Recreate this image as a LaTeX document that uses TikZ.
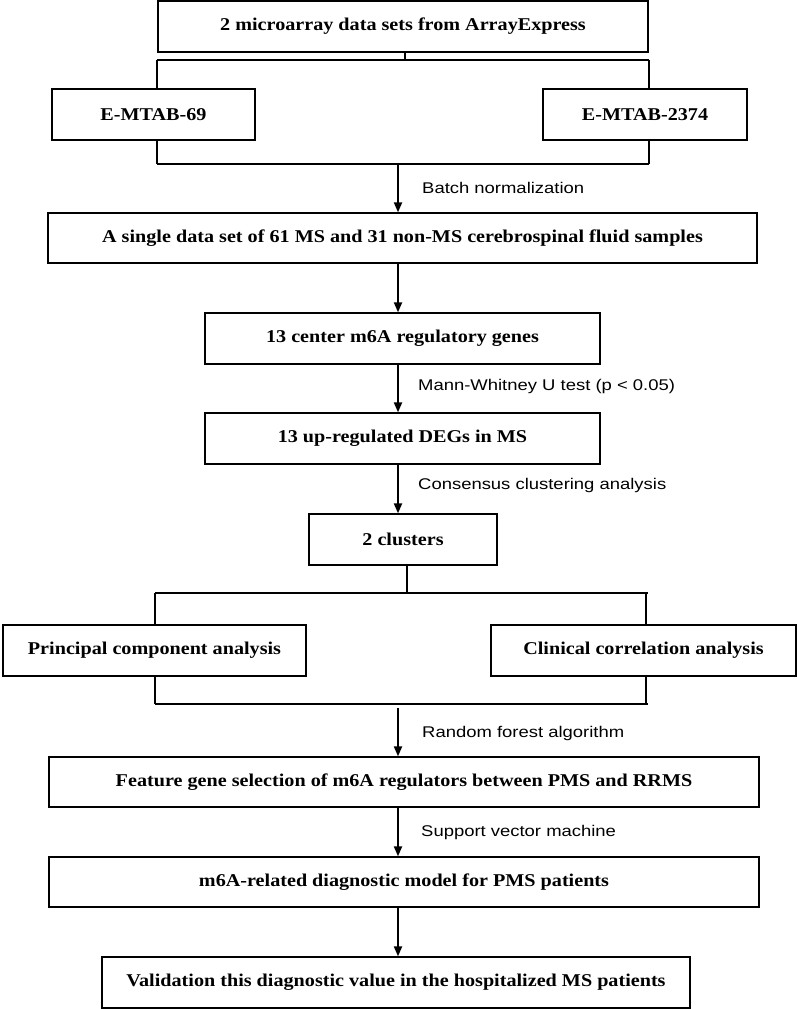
\documentclass[tikz,border=0pt]{standalone}
\usepackage{fontspec}
\setmainfont{Liberation Serif}[FakeStretch=1.12]
\newfontfamily\labelfont{Liberation Sans}[FakeStretch=1.19]
\usetikzlibrary{arrows.meta}
\tikzset{
  boxnode/.style={draw, line width=1.3pt, inner sep=0pt, font=\fontsize{18}{20}\selectfont\bfseries},
  bar/.style={line width=2.6pt},
  arr/.style={line width=2pt, -{Triangle[length=10pt,width=8pt]}},
  lbl/.style={anchor=west, inner sep=0pt, font=\labelfont\fontsize{15.5}{18}\selectfont},
}
\newcommand{\mkbox}[6]{\node[boxnode, minimum width=#4-#2, minimum height=#5-#3] (#1) at ({(#2+#4)/2},{(#3+#5)/2}) {#6};}
\begin{document}
\begin{tikzpicture}[x=1pt, y=-1pt]
\useasboundingbox (0,0) rectangle (797,1009);
% boxes
\mkbox{top}{158}{1}{648}{52}{2 microarray data sets from ArrayExpress}
\mkbox{eA}{52}{89}{255}{140}{E-MTAB-69}
\mkbox{eB}{543}{89}{747}{140}{E-MTAB-2374}
\mkbox{single}{48}{213}{757}{263}{A single data set of 61 MS and 31 non-MS cerebrospinal fluid samples}
\mkbox{center}{205}{313}{600}{364}{13 center m6A regulatory genes}
\mkbox{up}{205}{413}{600}{464}{13 up-regulated DEGs in MS}
\mkbox{clus}{309}{514}{497}{565}{2 clusters}
\mkbox{pca}{3}{625}{306}{676}{Principal component analysis}
\mkbox{clin}{491}{625}{796}{676}{Clinical correlation analysis}
\mkbox{feat}{49}{757}{759}{807}{Feature gene selection of m6A regulators between PMS and RRMS}
\mkbox{model}{49}{857}{759}{907}{m6A-related diagnostic model for PMS patients}
\mkbox{valid}{102}{957}{690}{1008}{Validation this diagnostic value in the hospitalized MS patients}
% coordinates
\coordinate (ax) at (398,0);
\coordinate (t1) at (405,60);
\coordinate (b1l) at (157,60);
\coordinate (b1r) at (649,60);
\coordinate (b2l) at (157,164);
\coordinate (b2r) at (649,164);
\coordinate (b2m) at (398,164);
\coordinate (c1) at (407,593);
\coordinate (b3l) at (155,593);
\coordinate (b3r) at (648,593);
\coordinate (b4l) at (155,704);
\coordinate (b4r) at (648,704);
\coordinate (b4m) at (398,708);
% tree 1
\draw[bar] (top.south -| t1) -- (t1);
\draw[bar] (b1l) -- (b1r);
\draw[bar] (b1l) -- (b1l |- eA.north);
\draw[bar] (b1r) -- (b1r |- eB.north);
\draw[bar] (eA.south -| b1l) -- (b2l);
\draw[bar] (eB.south -| b1r) -- (b2r);
\draw[bar] (b2l) -- (b2r);
\draw[arr] (b2m) -- (b2m |- single.north);
\node[lbl] (l1) at (422,188) {Batch normalization};
% chain
\draw[arr] (single.south -| ax) -- (center.north -| ax);
\draw[arr] (center.south -| ax) -- (up.north -| ax);
\node[lbl] (l2) at (418,386) {Mann-Whitney U test (p < 0.05)};
\draw[arr] (up.south -| ax) -- (clus.north -| ax);
\node[lbl] (l3) at (418,485) {Consensus clustering analysis};
% tree 2
\draw[bar] (clus.south -| c1) -- (c1);
\draw[bar] (b3l) -- (b3r);
\draw[bar] (b3l) -- (b3l |- pca.north);
\draw[bar] ([xshift=-2pt]b3r) -- ([xshift=-2pt]b3r |- clin.north);
\draw[bar] (pca.south -| b4l) -- (b4l);
\draw[bar] ([xshift=-2pt]b4r |- clin.south) -- ([xshift=-2pt]b4r);
\draw[bar] (b4l) -- (b4r);
\draw[arr] (b4m) -- (b4m |- feat.north);
\node[lbl] (l4) at (422,733) {Random forest algorithm};
\draw[arr] (feat.south -| ax) -- (model.north -| ax);
\node[lbl] (l5) at (421,832) {Support vector machine};
\draw[arr] (model.south -| ax) -- (valid.north -| ax);
\end{tikzpicture}
\end{document}
